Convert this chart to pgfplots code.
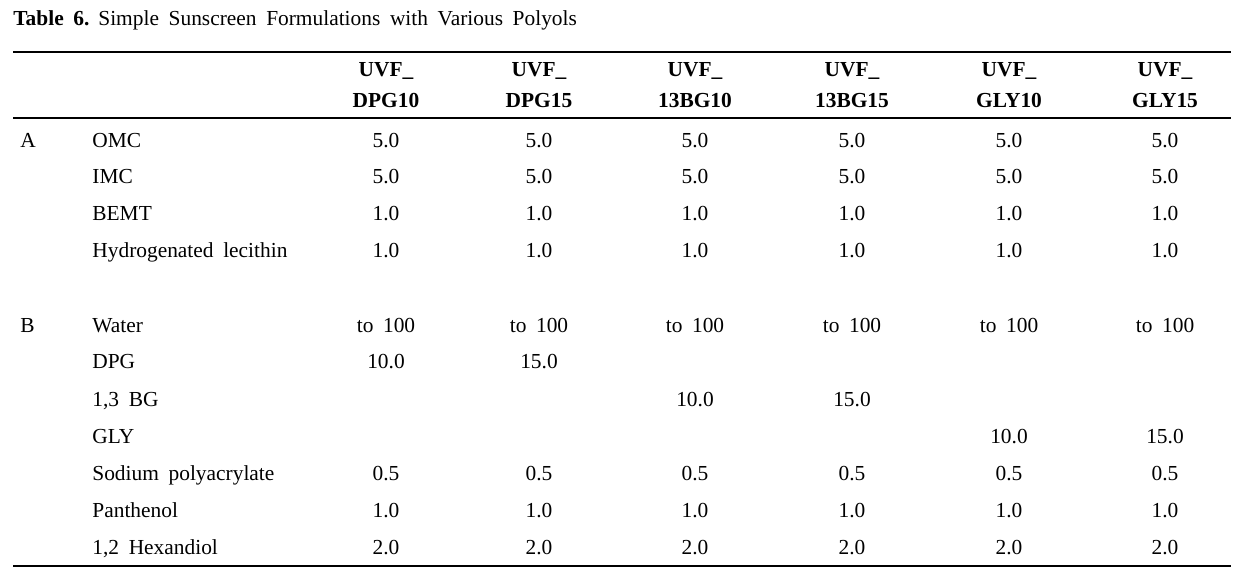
\documentclass[border=0pt]{standalone}
\usepackage{pgfplots}
\usepackage{pgfplotstable}
\pgfplotsset{compat=1.18}
\usepackage{fontspec}
\setmainfont[WordSpace=1.8]{Liberation Serif}

\newcommand\cellfont{\fontsize{10.7}{12}\selectfont}

% left-aligned text: row group letters and ingredient names (x,y in pixels, y = baseline)
\pgfplotstableread[col sep=semicolon]{
x;y;t
98;25;Simple Sunscreen Formulations with Various Polyols
20;147;A
92;147;OMC
92;183;IMC
92;220;BEMT
92;257;Hydrogenated lecithin
20;332;B
92;332;Water
92;368;DPG
92;406;1,3 BG
92;443;GLY
92;480;Sodium polyacrylate
92;517;Panthenol
92;554;1,2 Hexandiol
}\lefttext

\pgfplotstableread[col sep=semicolon]{
x;y;t
386;76;UVF\textunderscore
539;76;UVF\textunderscore
695;76;UVF\textunderscore
852;76;UVF\textunderscore
1009;76;UVF\textunderscore
1165;76;UVF\textunderscore
386;107;DPG10
539;107;DPG15
695;107;13BG10
852;107;13BG15
1009;107;GLY10
1165;107;GLY15
}\headtext

% cell values
\pgfplotstableread[col sep=semicolon]{
x;y;t
386;147;5.0
539;147;5.0
695;147;5.0
852;147;5.0
1009;147;5.0
1165;147;5.0
386;183;5.0
539;183;5.0
695;183;5.0
852;183;5.0
1009;183;5.0
1165;183;5.0
386;220;1.0
539;220;1.0
695;220;1.0
852;220;1.0
1009;220;1.0
1165;220;1.0
386;257;1.0
539;257;1.0
695;257;1.0
852;257;1.0
1009;257;1.0
1165;257;1.0
386;332;to 100
539;332;to 100
695;332;to 100
852;332;to 100
1009;332;to 100
1165;332;to 100
386;368;10.0
539;368;15.0
695;406;10.0
852;406;15.0
1009;443;10.0
1165;443;15.0
386;480;0.5
539;480;0.5
695;480;0.5
852;480;0.5
1009;480;0.5
1165;480;0.5
386;517;1.0
539;517;1.0
695;517;1.0
852;517;1.0
1009;517;1.0
1165;517;1.0
386;554;2.0
539;554;2.0
695;554;2.0
852;554;2.0
1009;554;2.0
1165;554;2.0
}\cells

\begin{document}
\begin{tikzpicture}
  \begin{axis}[
      hide axis,
      scale only axis,
      width=621.5pt, height=287pt,
      xmin=0, xmax=1243,
      ymin=0, ymax=574,
      y dir=reverse,
      clip=false,
      point meta=explicit symbolic,
    ]
    % page corners
    \addplot[draw=none] coordinates {(0,0)(1243,574)};

    % rules
    \addplot[black, line width=0.75pt] coordinates {(13,52)(1231,52)};
    \addplot[black, line width=0.75pt] coordinates {(13,118)(1231,118)};
    \addplot[black, line width=0.75pt] coordinates {(13,566)(1231,566)};

    % title label
    \addplot[only marks, mark=none, nodes near coords,
      every node near coord/.append style={anchor=base west, inner sep=0pt, font=\cellfont\bfseries}]
      coordinates {(13,25) [Table 6.]};

    \addplot[only marks, mark=none, nodes near coords,
      every node near coord/.append style={anchor=base west, inner sep=0pt, font=\cellfont}]
      table[x=x, y=y, meta=t] {\lefttext};

    \addplot[only marks, mark=none, nodes near coords,
      every node near coord/.append style={anchor=base, inner sep=0pt, font=\cellfont\bfseries}]
      table[x=x, y=y, meta=t] {\headtext};

    \addplot[only marks, mark=none, nodes near coords,
      every node near coord/.append style={anchor=base, inner sep=0pt, font=\cellfont}]
      table[x=x, y=y, meta=t] {\cells};
  \end{axis}
\end{tikzpicture}
\end{document}
